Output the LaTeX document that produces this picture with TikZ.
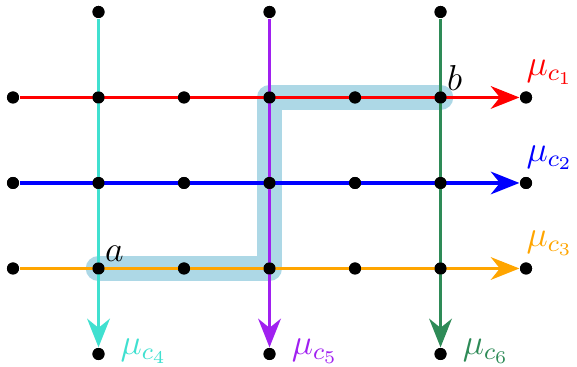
\documentclass[tikz,border=0pt]{standalone}
\usetikzlibrary{arrows.meta}
\definecolor{cturq}{RGB}{64,224,208}
\definecolor{cpurp}{RGB}{160,32,240}
\definecolor{cgreen}{RGB}{46,139,87}
\definecolor{corange}{RGB}{255,165,0}
\definecolor{chigh}{RGB}{173,216,230}
\begin{document}
\begin{tikzpicture}[
  dot/.style={circle,fill=black,inner sep=0pt,minimum size=4pt},
  flow/.style={line width=1.3pt,-{Stealth[length=9.5pt,width=7.5pt,inset=3pt]}},
  lbl/.style={inner sep=1pt,font=\large}
]
\useasboundingbox (-0.152,-0.152) rectangle (6.596,4.140);
% highlight path
\draw[chigh,line width=8.5pt,line cap=round,line join=round] (1,1) -- (3,1) -- (3,3) -- (5,3);
% dots
\foreach \x in {1,3,5} {
  \node[dot] (t\x) at (\x,4) {};
  \node[dot] (b\x) at (\x,0) {};
}
\foreach \y in {1,2,3} {
  \foreach \x in {0,...,6} {
    \node[dot] (p\x\y) at (\x,\y) {};
  }
}
% horizontal flows
\draw[flow,red] (p03) -- (p63);
\draw[flow,blue] (p02) -- (p62);
\draw[flow,corange] (p01) -- (p61);
% vertical flows
\draw[flow,cturq] (t1) -- (b1);
\draw[flow,cpurp] (t3) -- (b3);
\draw[flow,cgreen] (t5) -- (b5);
% redraw dots on top
\foreach \x in {1,3,5} {
  \fill (\x,4) circle (2pt);
  \fill (\x,0) circle (2pt);
}
\foreach \y in {1,2,3} {
  \foreach \x in {0,...,6} {
    \fill (\x,\y) circle (2pt);
  }
}
% labels
\node[lbl,anchor=south west,red] (l1) at ([xshift=-1pt,yshift=1pt]p63.north) {$\mu_{c_1}$};
\node[lbl,anchor=south west,blue] (l2) at ([xshift=-1pt,yshift=1pt]p62.north) {$\mu_{c_2}$};
\node[lbl,anchor=south west,corange] (l3) at ([xshift=-1pt,yshift=1pt]p61.north) {$\mu_{c_3}$};
\node[lbl,anchor=west,cturq] (l4) at ([xshift=4pt,yshift=1pt]b1.east) {$\mu_{c_4}$};
\node[lbl,anchor=west,cpurp] (l5) at ([xshift=4pt,yshift=1pt]b3.east) {$\mu_{c_5}$};
\node[lbl,anchor=west,cgreen] (l6) at ([xshift=4pt,yshift=1pt]b5.east) {$\mu_{c_6}$};
\node[lbl,anchor=south west] (la) at ([xshift=1pt,yshift=-1pt]p11.north) {$a$};
\node[lbl,anchor=south west] (lb) at ([xshift=1pt,yshift=-1pt]p53.north) {$b$};
\end{tikzpicture}
\end{document}
